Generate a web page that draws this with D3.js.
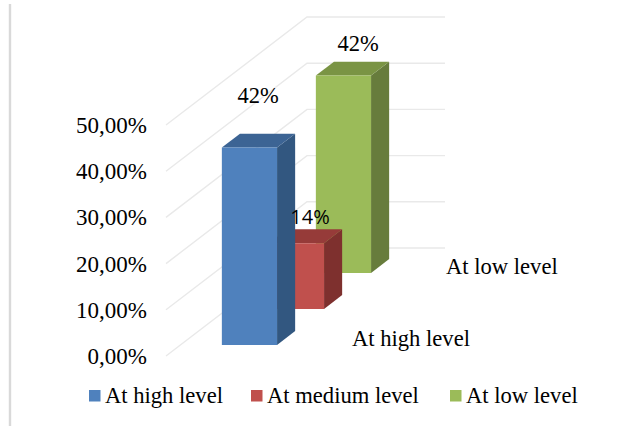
<!DOCTYPE html>
<html>
<head>
<meta charset="utf-8">
<script src="https://cdn.jsdelivr.net/npm/d3@7/dist/d3.min.js"></script>
<style>
  html, body { margin: 0; padding: 0; background: #fff; }
  svg { display: block; }
  text { font-family: "Liberation Serif", serif; fill: #000; }
</style>
</head>
<body>
<svg id="chart" width="630" height="426"></svg>
<script>
const seriesNames = ["At high level", "At medium level", "At low level"];
const seriesValues = [42, 14, 42];
const seriesLabels = ["42%", "14%", "42%"];
const axisTicks = [0, 10, 20, 30, 40, 50];
const tickLabels = ["0,00%", "10,00%", "20,00%", "30,00%", "40,00%", "50,00%"];
const depthLabels = ["At high level", "At low level"];
const faceColors = ["#4f81bd", "#c0504d", "#9bbb59"];
const topColors = ["#3c6494", "#963b39", "#7a9444"];
const sideColors = ["#325780", "#7e302e", "#677c3c"];

const svg = d3.select("#chart");

// Oblique projection: x runs across the wall, depth runs back along the floor.
const origin = { x: 166, y: 356 };
const depthVector = { x: 141, y: -108 };
const wallWidth = 138;

const xWall = d3.scaleLinear().domain([0, 1]).range([0, wallWidth]);
const yAxis = d3.scaleLinear().domain([0, 50]).range([0, 231]);
const yBar = d3.scaleLinear().domain([0, 50]).range([0, 235]);
const depth = d3.scaleBand().domain(seriesNames).range([0, 1]);

const barWidthShare = 0.4;
const barDepthShare = 0.385;

function project(xFrac, depthFrac, height) {
  return [
    origin.x + xWall(xFrac) + depthVector.x * depthFrac,
    origin.y + depthVector.y * depthFrac - height
  ];
}

const polygon = pts => pts.map(p => p.join(",")).join(" ");

// Gridlines on the side wall and the back wall
const grid = svg.append("g")
  .attr("fill", "none")
  .attr("stroke", "#e9e9e9")
  .attr("stroke-width", 1.4);

grid.selectAll("polyline")
  .data(axisTicks)
  .join("polyline")
  .attr("points", d => polygon([
    [origin.x, origin.y - yAxis(d)],
    project(0, 1, yAxis(d)),
    project(1, 1, yAxis(d))
  ]));

// Left border of the chart frame
svg.append("line")
  .attr("x1", 10).attr("x2", 10)
  .attr("y1", 4).attr("y2", 426)
  .attr("stroke", "#d9d9d9")
  .attr("stroke-width", 2.4);

// Bars are painted back to front so nearer ones overlap farther ones
const bars = seriesNames.map((name, i) => {
  const bw = depth.bandwidth();
  const d0 = depth(name) + bw * (1 - barDepthShare) / 2;
  const d1 = d0 + bw * barDepthShare;
  const x0 = (1 - barWidthShare) / 2;
  const x1 = x0 + barWidthShare;
  return { i, d0, d1, x0, x1, h: yBar(seriesValues[i]) };
}).reverse();

const barGroups = svg.append("g")
  .selectAll("g")
  .data(bars)
  .join("g");

barGroups.append("polygon")
  .attr("fill", d => sideColors[d.i])
  .attr("points", d => polygon([
    project(d.x1, d.d0, 0), project(d.x1, d.d1, 0),
    project(d.x1, d.d1, d.h), project(d.x1, d.d0, d.h)
  ]));

barGroups.append("polygon")
  .attr("fill", d => topColors[d.i])
  .attr("points", d => polygon([
    project(d.x0, d.d0, d.h), project(d.x1, d.d0, d.h),
    project(d.x1, d.d1, d.h), project(d.x0, d.d1, d.h)
  ]));

barGroups.append("polygon")
  .attr("fill", d => faceColors[d.i])
  .attr("points", d => polygon([
    project(d.x0, d.d0, 0), project(d.x1, d.d0, 0),
    project(d.x1, d.d0, d.h), project(d.x0, d.d0, d.h)
  ]));

// Value labels are placed relative to the rear edge of each bar's top
const labelStyles = [
  { dx: -9.5, dy: -31, size: 22.5, family: null },
  { dx: -4.5, dy: -5, size: 20, family: "'Open Sans', sans-serif" },
  { dx: -3.5, dy: -10.5, size: 22.5, family: null }
];

svg.append("g")
  .selectAll("text")
  .data(bars)
  .join("text")
  .attr("font-size", d => labelStyles[d.i].size)
  .attr("text-anchor", "middle")
  .style("font-family", d => labelStyles[d.i].family)
  .attr("x", d => project((d.x0 + d.x1) / 2, d.d1, d.h)[0] + labelStyles[d.i].dx)
  .attr("y", d => project((d.x0 + d.x1) / 2, d.d1, d.h)[1] + labelStyles[d.i].dy)
  .text(d => seriesLabels[d.i]);

// Value axis labels, right aligned next to the side wall
svg.append("g")
  .selectAll("text")
  .data(axisTicks)
  .join("text")
  .attr("font-size", 23)
  .attr("text-anchor", "end")
  .attr("x", 147)
  .attr("y", d => origin.y - yAxis(d) + 8)
  .text((d, i) => tickLabels[i]);

// Series names along the depth axis; only every other one is shown
const depthLabelSeries = [seriesNames[0], seriesNames[2]];
svg.append("g")
  .selectAll("text")
  .data(depthLabelSeries)
  .join("text")
  .attr("font-size", 22.6)
  .attr("x", d => project(1, depth(d), 0)[0] + 48)
  .attr("y", d => project(1, depth(d), 0)[1] - 10)
  .text((d, i) => depthLabels[i]);

// Legend
const legendX = [89, 251, 450];
const legend = svg.append("g")
  .selectAll("g")
  .data(seriesNames)
  .join("g")
  .attr("transform", (d, i) => `translate(${legendX[i]},390)`);

legend.append("rect")
  .attr("width", 11.5)
  .attr("height", 11.5)
  .attr("fill", (d, i) => faceColors[i]);

legend.append("text")
  .attr("x", 16)
  .attr("y", 13)
  .attr("font-size", 22.6)
  .text(d => d);
</script>
</body>
</html>
